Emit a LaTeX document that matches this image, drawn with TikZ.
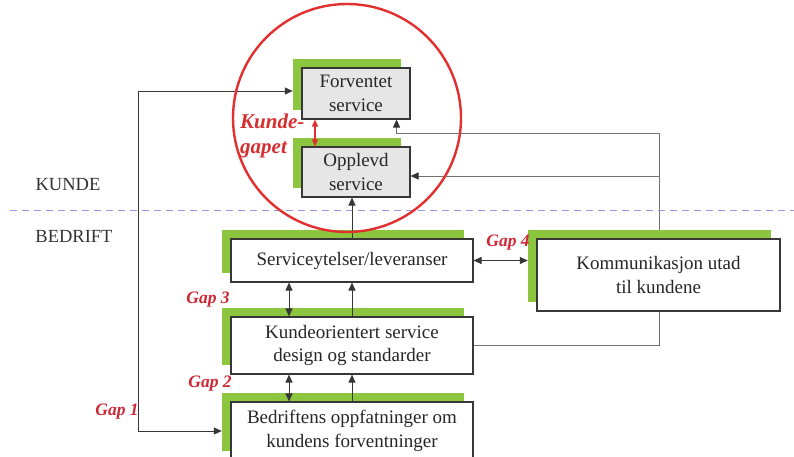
\documentclass[tikz,border=0pt]{standalone}
\usepackage{fontspec}
\setmainfont{Liberation Serif}
\usetikzlibrary{arrows.meta}
\definecolor{boxgreen}{RGB}{140,198,63}
\definecolor{boxgray}{RGB}{230,230,230}
\definecolor{linegray}{RGB}{55,55,55}
\definecolor{gapred}{RGB}{205,40,52}
\definecolor{circred}{RGB}{226,48,48}
\definecolor{dashblue}{RGB}{150,150,225}
\tikzset{
  x=1pt,y=-1pt,
  boxtext/.style={font=\fontsize{19}{23.5}\selectfont, text=black!85, align=center},
  mainbox/.style={boxtext, draw=linegray, line width=1.1pt, fill=white, inner sep=0pt},
  graybox/.style={mainbox, fill=boxgray},
  shadowbox/.style={fill=boxgreen, inner sep=0pt},
  conn/.style={draw=linegray, line width=1pt},
  tip/.tip={Triangle[length=8pt,width=7pt]},
  arr/.style={conn, -tip},
  darr/.style={conn, tip-tip},
  thinconn/.style={draw=black!55, line width=1pt},
  thinarr/.style={thinconn, -{Triangle[length=8pt,width=7pt,color=black!80]}},
  gaplabel/.style={font=\fontsize{17.5}{20}\selectfont\bfseries\itshape, text=gapred},
  sidelabel/.style={font=\fontsize{18.5}{22}\selectfont, text=black!80},
}
\begin{document}
\begin{tikzpicture}
\useasboundingbox (0,0) rectangle (794,456);
\fill[white] (0,0) rectangle (794,456);

% coordinates for free path corners
\coordinate (g1top) at (138,91);
\coordinate (g1bot) at (138,431);
\coordinate (r1) at (659,133);
\coordinate (r2) at (659,345.5);

% right-hand feedback line (behind boxes)
\draw[thinconn] (r2) -- (r1);

% green shadows
\node[shadowbox, minimum width=108pt, minimum height=51pt] (FG) at (347,84.5) {};
\node[shadowbox, minimum width=108pt, minimum height=50pt] (OG) at (347,163) {};
\node[shadowbox, minimum width=242pt, minimum height=43pt] (SG) at (343,251.5) {};
\node[shadowbox, minimum width=242pt, minimum height=57pt] (KG) at (343,336.5) {};
\node[shadowbox, minimum width=242pt, minimum height=58pt] (BG) at (343,422) {};
\node[shadowbox, minimum width=243pt, minimum height=72pt] (CG) at (649.5,266) {};

% main boxes
\node[graybox, minimum width=108pt, minimum height=51pt] (F) at (356,93.5) {Forventet\\service};
\node[graybox, minimum width=108pt, minimum height=50pt] (O) at (356,172) {Opplevd\\service};
\node[mainbox, minimum width=242pt, minimum height=43pt] (S) at (352,260.5) {Serviceytelser/leveranser};
\node[mainbox, minimum width=242pt, minimum height=57pt] (K) at (352,345.5) {Kundeorientert service\\design og standarder};
\node[mainbox, minimum width=242pt, minimum height=58pt] (B) at (352,431) {Bedriftens oppfatninger om\\kundens forventninger};
\node[mainbox, minimum width=243pt, minimum height=72pt] (C) at (658.5,275) {Kommunikasjon utad\\til kundene};

% dashed boundary
\coordinate (dl) at (10,210);
\coordinate (dr) at (794,210);
\draw[dashblue, line width=1pt, dash pattern=on 7pt off 5pt] (dl) -- (dr);

% connectors
\draw[thinconn] (K.east) -- (r2);
\draw[thinarr] (r1) -| ([xshift=-14pt]F.south east);
\draw[thinarr] (r1 |- 0,176) -- ([yshift=-4pt]O.east);
\draw[arr] (S.north) -- (S.north |- O.south);
\draw[darr] ([xshift=-63pt]S.south) -- ([xshift=-63pt]K.north);
\draw[arr] (K.north) -- (S.south);
\draw[darr] ([xshift=-63pt]K.south) -- ([xshift=-63pt]B.north);
\draw[arr] (B.north) -- (K.south);
\draw[darr] (S.east) -- (S.east -| CG.west);
\draw[darr] (FG.west |- g1top) -- (g1top) -- (g1bot) -- (BG.west |- g1bot);
\draw[circred, line width=1.1pt, {Triangle[length=7pt,width=6pt]}-{Triangle[length=7pt,width=6pt]}] ([xshift=-41pt]F.south) -- ([xshift=-41pt]O.north);

% labels
\node[sidelabel] (kunde) at (68,185) {KUNDE};
\node[sidelabel] (bedrift) at (74,236) {BEDRIFT};
\node[gaplabel] (gap1) at (117,412) {Gap 1};
\node[gaplabel] (gap2) at (210,384) {Gap 2};
\node[gaplabel] (gap3) at (208,300) {Gap 3};
\node[gaplabel] (gap4) at (508,243) {Gap 4};
\node[font=\fontsize{21}{25}\selectfont\bfseries\itshape, text=circred!95!black, align=left, anchor=west, inner sep=0pt] (kg) at (240,136) {Kunde-\\gapet};

% red circle
\node[draw=circred, line width=2.4pt, circle, minimum size=228pt, inner sep=0pt] (ring) at (347,118) {};
\end{tikzpicture}
\end{document}
